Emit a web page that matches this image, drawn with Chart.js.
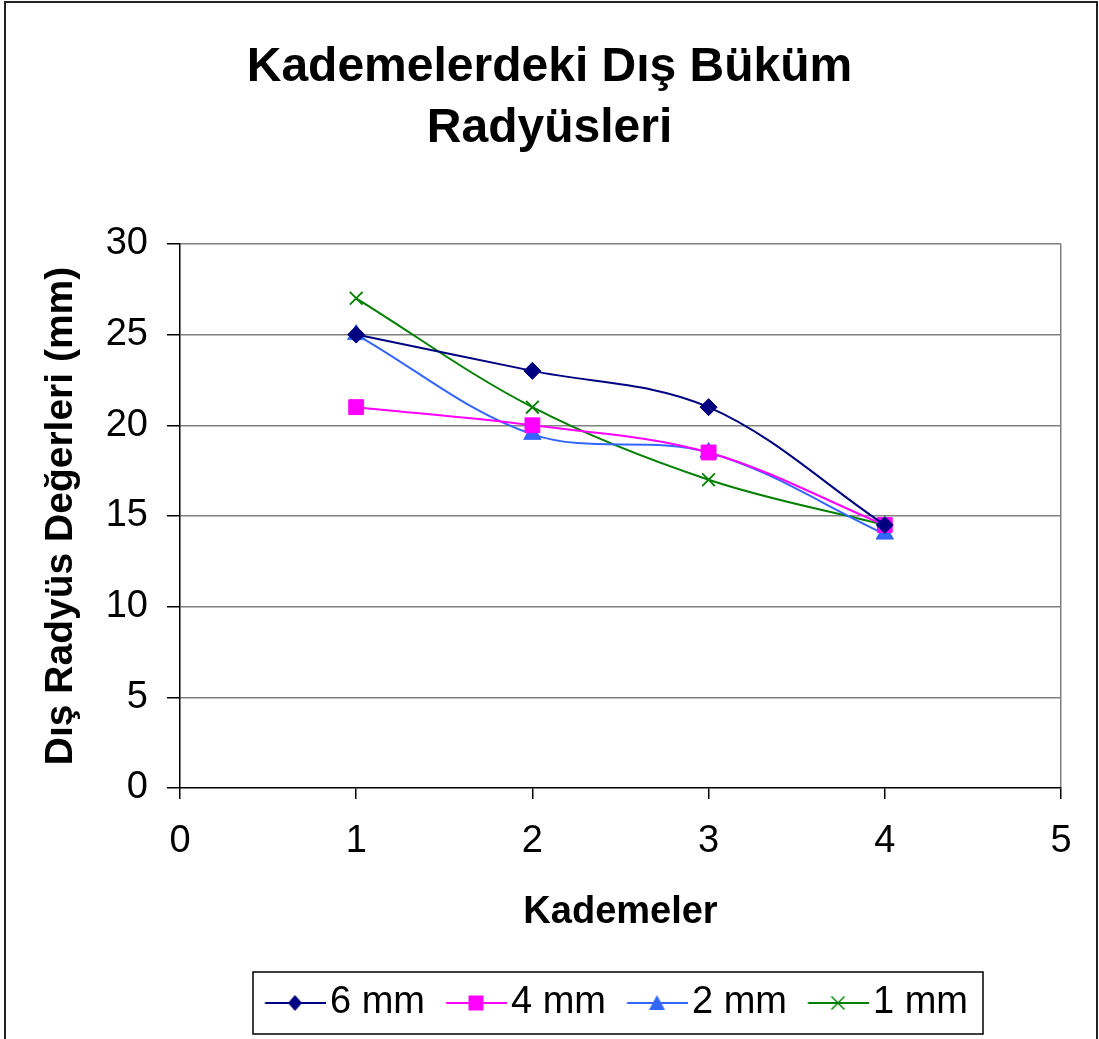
<!DOCTYPE html>
<html><head><meta charset="utf-8">
<script src="https://cdn.jsdelivr.net/npm/chart.js@4"></script>
<style>html,body{margin:0;padding:0;background:#fff}#wrap{width:1099px;height:1039px}</style>
</head><body><div id="wrap"><canvas id="c" width="1099" height="1039"></canvas></div>
<script>
// ---- data ----
const stages = [1, 2, 3, 4];
const xTickValues = [0, 1, 2, 3, 4, 5];
const yTickValues = [0, 5, 10, 15, 20, 25, 30];
const seriesNames = ['6 mm', '4 mm', '2 mm', '1 mm'];
const radius6mm = [25, 23, 21, 14.5];
const radius4mm = [21, 20, 18.5, 14.5];
const radius2mm = [25, 19.5, 18.5, 14];
const radius1mm = [27, 21, 17, 14.5];
const titleLines = ['Kademelerdeki Dış Büküm', 'Radyüsleri'];
const xAxisTitle = 'Kademeler';
const yAxisTitle = 'Dış Radyüs Değerleri (mm)';

// ---- styles ----
const FONT = "'Liberation Sans', Arial, Helvetica, sans-serif";
const seriesValues = [radius6mm, radius4mm, radius2mm, radius1mm];
const seriesColors = ['#000080', '#FF00FF', '#3366FF', '#008000'];
const seriesPoint = ['rectRot', 'rect', 'triangle', 'crossRot'];
const seriesRadius = [8.5, 10.5, 10, 9];

function legendIcon(color, style) {
  const c = document.createElement('canvas');
  c.width = 68; c.height = 26;
  const g = c.getContext('2d');
  g.strokeStyle = color; g.fillStyle = color; g.lineWidth = 2;
  g.beginPath(); g.moveTo(7.5, 13); g.lineTo(68, 13); g.stroke();
  const cx = 37.5, cy = 13;
  g.beginPath();
  if (style === 'rectRot') {
    g.moveTo(cx, cy - 8); g.lineTo(cx + 7, cy); g.lineTo(cx, cy + 8); g.lineTo(cx - 7, cy); g.closePath(); g.fill();
  } else if (style === 'rect') {
    g.rect(cx - 7.5, cy - 7.5, 15, 15); g.fill();
  } else if (style === 'triangle') {
    g.moveTo(cx, cy - 8); g.lineTo(cx + 8, cy + 7); g.lineTo(cx - 8, cy + 7); g.closePath(); g.fill();
  } else {
    g.lineWidth = 1.5;
    g.moveTo(cx - 6.5, cy - 6.5); g.lineTo(cx + 6.5, cy + 6.5); g.moveTo(cx + 6.5, cy - 6.5); g.lineTo(cx - 6.5, cy + 6.5); g.stroke();
  }
  return c;
}

const datasets = seriesNames.map((name, i) => ({
  label: name,
  data: stages.map((s, k) => ({ x: s, y: seriesValues[i][k] })),
  borderColor: seriesColors[i],
  backgroundColor: seriesColors[i],
  borderWidth: 2,
  tension: 0.35,
  pointStyle: seriesPoint[i],
  pointRadius: seriesRadius[i],
  pointHoverRadius: seriesRadius[i],
  pointBackgroundColor: seriesColors[i],
  pointBorderColor: seriesColors[i],
  pointBorderWidth: seriesPoint[i] === 'crossRot' ? 1.8 : 1,
  clip: false,
  legendIcon: legendIcon(seriesColors[i], seriesPoint[i])
}));

const framePlugin = {
  id: 'frame',
  afterLayout(chart) {
    const lg = chart.legend;
    const pad = lg.options.labels.padding;
    const dx = 272 - (lg.left + pad);
    lg.left += dx; lg.right += dx;
  },
  beforeDraw(chart) {
    const ctx = chart.ctx;
    ctx.save(); ctx.fillStyle = '#fff'; ctx.fillRect(0, 0, chart.width, chart.height); ctx.restore();
  },
  afterDraw(chart) {
    const ctx = chart.ctx;
    ctx.save();
    ctx.strokeStyle = '#222'; ctx.lineWidth = 2;
    ctx.strokeRect(5, 2, 1092, 1060);
    const hb = chart.legend.legendHitBoxes;
    if (hb && hb.length) {
      const first = hb[0], last = hb[hb.length - 1];
      const left = first.left - 19;
      const right = last.left + last.width + 15;
      const cy = first.top + first.height / 2;
      ctx.strokeStyle = '#000'; ctx.lineWidth = 1.5;
      ctx.strokeRect(left, cy - 31, right - left, 62);
    }
    ctx.restore();
  }
};

new Chart(document.getElementById('c'), {
  type: 'line',
  data: { datasets },
  plugins: [framePlugin],
  options: {
    responsive: false,
    devicePixelRatio: 1,
    animation: false,
    events: [],
    layout: { padding: { left: 38, right: 38, top: 0, bottom: 7 } },
    plugins: {
      title: {
        display: true,
        text: titleLines,
        color: '#000',
        font: { family: FONT, size: 48, weight: 'bold', lineHeight: 1.27 },
        padding: { top: 37, bottom: 85 }
      },
      legend: {
        display: true,
        position: 'bottom',
        align: 'start',
        labels: {
          color: '#000',
          font: { family: FONT, size: 38 },
          usePointStyle: true,
          pointStyleWidth: 39,
          boxWidth: 39,
          padding: 28,
          generateLabels(chart) {
            return chart.data.datasets.map((ds, i) => ({
              text: ds.label,
              pointStyle: ds.legendIcon,
              fillStyle: ds.borderColor,
              strokeStyle: ds.borderColor,
              lineWidth: 0,
              hidden: false,
              datasetIndex: i,
              fontColor: '#000'
            }));
          }
        }
      },
      tooltip: { enabled: false }
    },
    scales: {
      x: {
        type: 'linear',
        min: xTickValues[0],
        max: xTickValues[xTickValues.length - 1],
        afterBuildTicks(scale) { scale.ticks = xTickValues.map(v => ({ value: v })); },
        afterFit(scale) { scale.height = 168; },
        ticks: { color: '#000', font: { family: FONT, size: 38 }, padding: 20, maxRotation: 0, autoSkip: false },
        grid: {
          drawOnChartArea: true,
          color: (c) => (c.tick && c.tick.value === 5) ? '#808080' : 'rgba(0,0,0,0)',
          tickColor: '#000',
          tickLength: 11,
          lineWidth: 1.5
        },
        border: { display: true, color: '#000', width: 1.5 },
        title: {
          display: true, text: xAxisTitle, color: '#000',
          font: { family: FONT, size: 38, weight: 'bold' },
          padding: { top: 0, bottom: 21 }
        }
      },
      y: {
        type: 'linear',
        min: yTickValues[0],
        max: yTickValues[yTickValues.length - 1],
        afterBuildTicks(scale) { scale.ticks = yTickValues.map(v => ({ value: v })); },
        afterFit(scale) { scale.width = 142; },
        ticks: { color: '#000', font: { family: FONT, size: 38 }, padding: 19 },
        grid: {
          color: (c) => (c.tick && c.tick.value === 0) ? 'rgba(0,0,0,0)' : '#808080',
          tickColor: '#000',
          tickLength: 13,
          lineWidth: 1.5
        },
        border: { display: true, color: '#000', width: 1.5 },
        title: {
          display: true, text: yAxisTitle, color: '#000',
          font: { family: FONT, size: 39, weight: 'bold' },
          padding: { top: 0, bottom: 0 }
        }
      }
    }
  }
});
</script>
</body></html>
